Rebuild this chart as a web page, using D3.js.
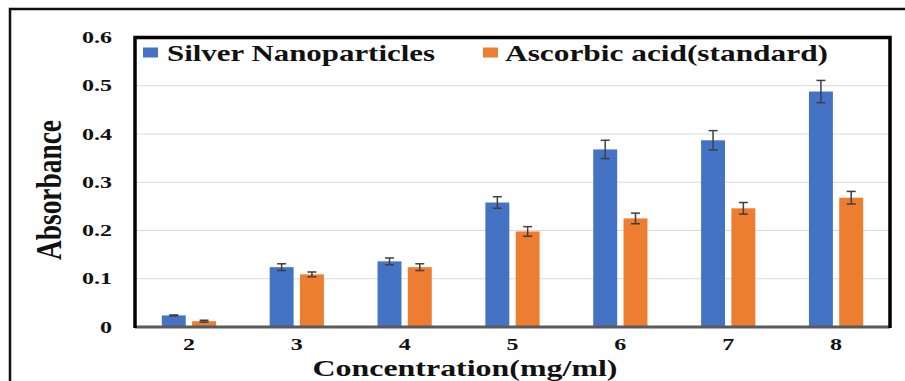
<!DOCTYPE html>
<html>
<head>
<meta charset="utf-8">
<script src="https://cdn.jsdelivr.net/npm/d3@7/dist/d3.min.js"></script>
<style>
  body { margin: 0; background: #fff; }
  svg { display: block; }
  text { font-family: "Liberation Serif", "Times New Roman", serif; fill: #111; }
</style>
</head>
<body>
<svg id="chart" width="905" height="381"></svg>
<script>
// data
var categories = ['2', '3', '4', '5', '6', '7', '8'];
var seriesNames = ['Silver Nanoparticles', 'Ascorbic acid(standard)'];
var silver = [0.024, 0.124, 0.136, 0.258, 0.368, 0.387, 0.488];
var silverErr = [0.001, 0.007, 0.007, 0.012, 0.019, 0.020, 0.023];
var ascorbic = [0.012, 0.109, 0.124, 0.198, 0.225, 0.246, 0.268];
var ascorbicErr = [0.002, 0.005, 0.007, 0.010, 0.011, 0.012, 0.013];
var yTicks = [0, 0.1, 0.2, 0.3, 0.4, 0.5, 0.6];
var colors = ['#4472C4', '#ED7D31'];

var svg = d3.select('#chart');
var L = 135, R = 890, T = 37.5, B = 327;

// stretch text sideways like the original (squeezed export)
function stretch(sel, k) {
  sel.each(function () {
    var w = this.getComputedTextLength();
    d3.select(this).attr('textLength', w * k).attr('lengthAdjust', 'spacingAndGlyphs');
  });
}

// outer frame
svg.append('rect').attr('x', 10).attr('y', 9).attr('width', 920).attr('height', 400)
  .attr('fill', 'none').attr('stroke', '#111').attr('stroke-width', 2.5);

var x0 = d3.scaleBand().domain(categories).range([L, R]).padding(0);
var x1 = d3.scaleBand().domain([0, 1]).range([0, x0.bandwidth()]).paddingInner(0.21).paddingOuter(0.885);
var y = d3.scaleLinear().domain([0, 0.6]).range([B, T]);

// gridlines
svg.append('g').selectAll('line').data(yTicks.filter(function (d) { return d > 0 && d < 0.6; }))
  .enter().append('line')
  .attr('x1', L).attr('x2', R)
  .attr('y1', function (d) { return y(d); }).attr('y2', function (d) { return y(d); })
  .attr('stroke', '#d9d9d9').attr('stroke-width', 1);

// y axis labels
var yAxis = svg.append('g').attr('transform', 'translate(' + L + ',0)')
  .call(d3.axisLeft(y).tickValues(yTicks).tickFormat(function (d) { return d === 0 ? '0' : d3.format('.1f')(d); }).tickSize(0).tickPadding(23));
yAxis.select('.domain').remove();
yAxis.selectAll('text').attr('font-size', 16).attr('font-weight', 'bold')
  .attr('font-family', '"Liberation Serif", serif').attr('fill', '#111').call(stretch, 1.5);

// bars
var series = [silver, ascorbic];
var errs = [silverErr, ascorbicErr];
var groups = svg.append('g').selectAll('g').data(categories).enter().append('g')
  .attr('transform', function (d) { return 'translate(' + x0(d) + ',0)'; });

groups.each(function (c, i) {
  var g = d3.select(this);
  [0, 1].forEach(function (s) {
    var v = series[s][i], e = errs[s][i];
    var bx = x1(s), bw = x1.bandwidth();
    g.append('rect').attr('x', bx).attr('width', bw)
      .attr('y', y(v)).attr('height', B - y(v)).attr('fill', colors[s]);
    var cx = bx + bw / 2;
    g.append('line').attr('x1', cx).attr('x2', cx).attr('y1', y(v + e)).attr('y2', y(v - e))
      .attr('stroke', '#3f3f3f').attr('stroke-width', 1.5);
    [v + e, v - e].forEach(function (t) {
      g.append('line').attr('x1', cx - 4.5).attr('x2', cx + 4.5).attr('y1', y(t)).attr('y2', y(t))
        .attr('stroke', '#3f3f3f').attr('stroke-width', 1.5);
    });
  });
});

// x axis labels
var xAxis = svg.append('g').attr('transform', 'translate(0,' + B + ')')
  .call(d3.axisBottom(x0).tickSize(0).tickPadding(12));
xAxis.select('.domain').remove();
xAxis.selectAll('text').attr('font-size', 16).attr('font-weight', 'bold')
  .attr('font-family', '"Liberation Serif", serif').attr('fill', '#111').call(stretch, 1.5);

// plot frame + bottom axis line
svg.append('line').attr('x1', L).attr('x2', R).attr('y1', B).attr('y2', B)
  .attr('stroke', '#5a5a5a').attr('stroke-width', 3);
svg.append('path').attr('d', 'M' + L + ',' + (B + 1) + 'V' + T + 'H' + R + 'V' + (B + 1))
  .attr('fill', 'none').attr('stroke', '#000').attr('stroke-width', 3.5);

// legend
var legendX = [143, 483], legendW = [268, 323], textX = [167, 505];
seriesNames.forEach(function (n, s) {
  svg.append('rect').attr('x', legendX[s]).attr('y', 47.5).attr('width', 15).attr('height', 10).attr('fill', colors[s]);
  svg.append('text').attr('x', textX[s]).attr('y', 60.5).attr('font-size', 24).attr('font-weight', 'bold')
    .attr('textLength', legendW[s]).attr('lengthAdjust', 'spacingAndGlyphs').text(n);
});

// axis titles
svg.append('text').attr('transform', 'translate(61,190) rotate(-90) scale(1,1.35)')
  .attr('text-anchor', 'middle').attr('font-size', 27).attr('font-weight', 'bold')
  .attr('textLength', 140).attr('lengthAdjust', 'spacingAndGlyphs').text('Absorbance');
svg.append('text').attr('x', 465).attr('y', 375.5).attr('text-anchor', 'middle')
  .attr('font-size', 23).attr('font-weight', 'bold')
  .attr('textLength', 305).attr('lengthAdjust', 'spacingAndGlyphs').text('Concentration(mg/ml)');
</script>
</body>
</html>
